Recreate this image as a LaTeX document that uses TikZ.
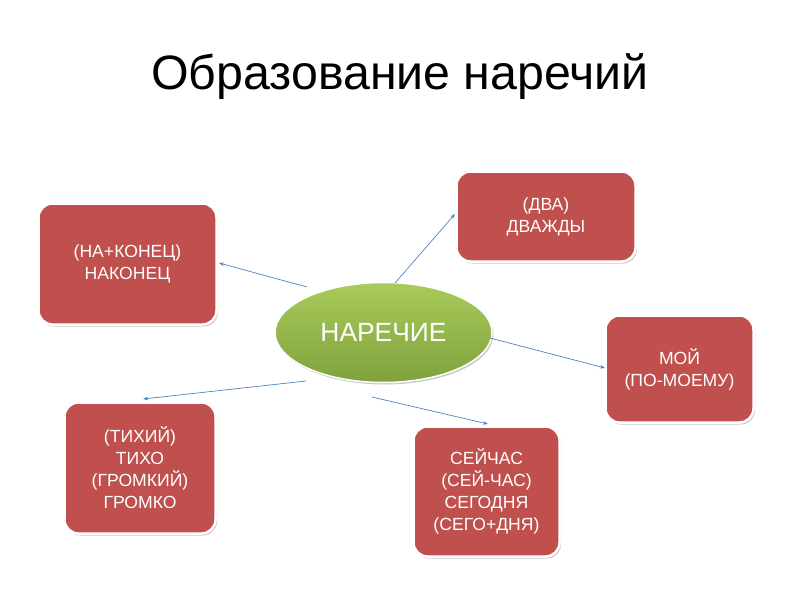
\documentclass[tikz,border=0pt]{standalone}
\usepackage{fontspec}
\setmainfont{Liberation Sans}
\usetikzlibrary{shapes.geometric,shadows,arrows.meta}
\definecolor{boxred}{HTML}{C0504D}
\definecolor{greenlight}{HTML}{A9CB5A}
\definecolor{greendark}{HTML}{7FA23E}
\definecolor{linkblue}{HTML}{4F81BD}
\tikzset{
  redbox/.style={rectangle, rounded corners=14pt, fill=boxred, draw=white, line width=2.5pt,
    text=white, align=center, font=\fontsize{17.6}{22}\selectfont, inner sep=0pt,
    drop shadow={shadow xshift=1.5pt, shadow yshift=-2pt, opacity=0.35, fill=black!60}},
  centre/.style={ellipse, draw=white, line width=1.5pt, top color=greenlight, bottom color=greendark,
    text=white, font=\fontsize{26.4}{30}\selectfont, inner sep=0pt,
    drop shadow={shadow xshift=1.5pt, shadow yshift=-2pt, opacity=0.35, fill=black!60}},
  link/.style={draw=linkblue, line width=0.7pt, -{Stealth[length=5pt,width=3.5pt]}}
}
\begin{document}
\begin{tikzpicture}[x=1pt,y=-1pt]
\useasboundingbox (0,0) rectangle (800,600);
\node[anchor=base, font=\fontsize{48.3}{54}\selectfont] (title) at (400,89) {Образование наречий};
\node[redbox, minimum width=178pt, minimum height=121pt] (nak) at (127.5,264) {(НА+КОНЕЦ)\\НАКОНЕЦ};
\node[redbox, minimum width=179pt, minimum height=90pt] (dva) at (546,216.5) {(ДВА)\\ДВАЖДЫ};
\node[redbox, minimum width=148pt, minimum height=107pt] (moy) at (679.5,369) {МОЙ\\(ПО-МОЕМУ)};
\node[redbox, minimum width=151pt, minimum height=131pt] (tih) at (140,468) {(ТИХИЙ)\\ТИХО\\(ГРОМКИЙ)\\ГРОМКО};
\node[redbox, minimum width=146pt, minimum height=130pt] (sey) at (486.5,491.5) {СЕЙЧАС\\(СЕЙ-ЧАС)\\СЕГОДНЯ\\(СЕГО+ДНЯ)};
\node[centre, minimum width=217pt, minimum height=100pt] (c) at (383.5,332.5) {НАРЕЧИЕ};
\coordinate (a1) at (219,263);
\coordinate (a2) at (455,214);
\coordinate (a3) at (605,368);
\coordinate (a4) at (143,399);
\coordinate (a5) at (488,424);
\coordinate (s1) at (307,287);
\coordinate (s2) at (395,283);
\coordinate (s3) at (490,338);
\coordinate (s4) at (306,381);
\coordinate (s5) at (372,397);
\draw[link] (s1) -- (a1);
\draw[link] (s2) -- (a2);
\draw[link] (s3) -- (a3);
\draw[link] (s4) -- (a4);
\draw[link] (s5) -- (a5);
\end{tikzpicture}
\end{document}
